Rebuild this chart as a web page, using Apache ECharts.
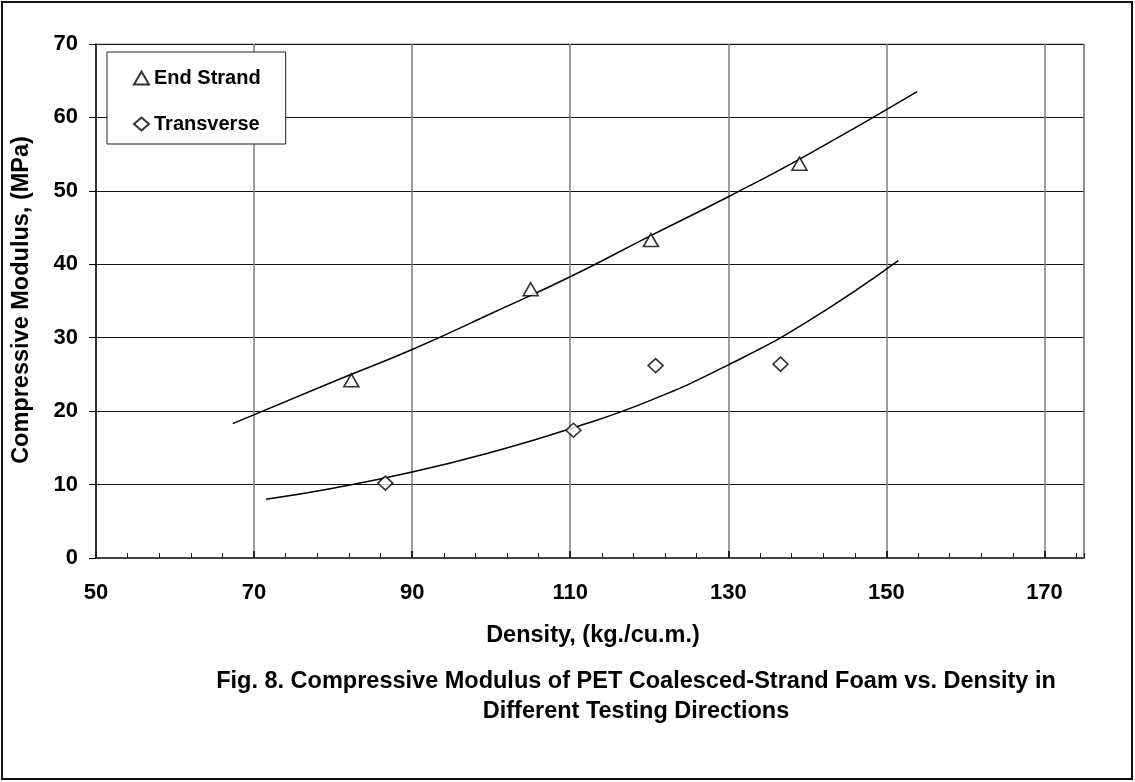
<!DOCTYPE html>
<html>
<head>
<meta charset="utf-8">
<title>Compressive Modulus vs. Density</title>
<script src="https://cdn.jsdelivr.net/npm/echarts@6/dist/echarts.min.js"></script>
<style>
  html, body { margin: 0; padding: 0; background: #fff; }
  #chart { width: 1135px; height: 782px; }
</style>
</head>
<body>
<div id="chart"></div>
<script>
const FONT = "'Liberation Sans', Arial, Helvetica, sans-serif";

// Measured specimens: [density (kg/m^3), compressive modulus (MPa)]
const endStrandPoints  = [[82.3, 24.2], [105.0, 36.6], [120.2, 43.3], [139.0, 53.7]];
const transversePoints = [[86.6, 10.2], [110.4, 17.4], [120.8, 26.2], [136.6, 26.4]];

// Trend curves
const endStrandTrend = [
  [67.3, 18.3], [80, 24.0], [90, 28.4], [100, 33.3], [110, 38.3],
  [120, 43.8], [130, 49.2], [140, 54.9], [153.9, 63.5]
];
const transverseTrend = [
  [71.5, 8.0], [80, 9.5], [90, 11.7], [100, 14.4], [110, 17.6], [120, 21.4],
  [130, 26.3], [140, 32.2], [151.5, 40.5]
];

// Axis ranges and tick steps
const xRange = [50, 175];
const xMajorStep = 20;
const xMinorStep = 4;
const yRange = [0, 70];
const yStep = 10;

// Text
const seriesNames = ['End Strand', 'Transverse'];
const xTitle = 'Density, (kg./cu.m.)';
const yTitle = 'Compressive Modulus, (MPa)';
const captionLines = [
  'Fig. 8. Compressive Modulus of PET Coalesced-Strand Foam vs. Density in',
  'Different Testing Directions'
];

const chart = echarts.init(document.getElementById('chart'), null, { renderer: 'canvas' });

const markerStyle = { color: '#fff', borderColor: '#000', borderWidth: 1.6 };
const trendStyle = { color: '#000', width: 1.5 };
const labelStyle = { fontFamily: FONT, fontSize: 22, fontWeight: 'bold', color: '#000' };

// one dark line per y tick; the top one is the grey frame edge
const yLineCount = Math.round((yRange[1] - yRange[0]) / yStep) + 1;
const yLineColors = [];
for (let i = 0; i < yLineCount; i++) yLineColors.push(i === yLineCount - 1 ? '#8a8a8a' : '#111');

const option = {
  animation: false,
  backgroundColor: '#fff',
  grid: {
    left: 96, right: 51, top: 44, bottom: 224,
    show: true, borderColor: '#9a9a9a', borderWidth: 1, backgroundColor: 'transparent'
  },
  legend: {
    data: [
      { name: seriesNames[0], icon: 'triangle' },
      { name: seriesNames[1], icon: 'diamond' }
    ],
    orient: 'vertical',
    left: 107, top: 52,
    padding: [16, 25, 10, 26],
    itemGap: 26,
    itemWidth: 15, itemHeight: 13,
    backgroundColor: '#fff',
    borderColor: '#222', borderWidth: 1,
    selectedMode: false,
    textStyle: { fontFamily: FONT, fontSize: 20, fontWeight: 'bold', color: '#000' }
  },
  xAxis: [
    {
      type: 'value', min: xRange[0], max: xRange[1], interval: xMajorStep, position: 'bottom',
      axisLine: { show: true, onZero: false, lineStyle: { color: '#444', width: 2 } },
      axisTick: { show: true, inside: true, length: 7, lineStyle: { color: '#222', width: 2 } },
      axisLabel: Object.assign({
        margin: 24, showMaxLabel: false,
        formatter: v => ((v - xRange[0]) % xMajorStep === 0 ? String(v) : '')
      }, labelStyle),
      splitLine: { show: true, showMinLine: false, lineStyle: { color: '#7c7c7c', width: 1.5 } }
    },
    {
      type: 'value', min: xRange[0], max: xRange[1], interval: xMinorStep, position: 'bottom',
      axisLine: { show: false, onZero: false },
      axisTick: { show: true, inside: true, length: 5, lineStyle: { color: '#222', width: 1 } },
      axisLabel: { show: false },
      splitLine: { show: false }
    }
  ],
  yAxis: {
    type: 'value', min: yRange[0], max: yRange[1], interval: yStep,
    axisLine: { show: true, lineStyle: { color: '#000', width: 1.5 } },
    axisTick: { show: true, inside: false, length: 7, lineStyle: { color: '#000', width: 1 } },
    axisLabel: Object.assign({ margin: 18 }, labelStyle),
    splitLine: { show: true, showMinLine: false, lineStyle: { color: yLineColors, width: 1 } }
  },
  series: [
    {
      name: 'End Strand trend', type: 'line', xAxisIndex: 0, data: endStrandTrend,
      showSymbol: false, symbol: 'none', smooth: 0.5,
      lineStyle: trendStyle, silent: true, z: 2
    },
    {
      name: 'Transverse trend', type: 'line', xAxisIndex: 0, data: transverseTrend,
      showSymbol: false, symbol: 'none', smooth: 0.5,
      lineStyle: trendStyle, silent: true, z: 2
    },
    {
      name: seriesNames[0], type: 'scatter', xAxisIndex: 0, data: endStrandPoints,
      symbol: 'triangle', symbolSize: [15, 13], itemStyle: markerStyle, z: 4
    },
    {
      name: seriesNames[1], type: 'scatter', xAxisIndex: 0, data: transversePoints,
      symbol: 'diamond', symbolSize: [15, 14], itemStyle: markerStyle, z: 4
    }
  ],
  graphic: [
    {
      type: 'rect', silent: true, z: 0,
      shape: { x: 2, y: 2, width: 1130, height: 777 },
      style: { fill: 'none', stroke: '#111', lineWidth: 2 }
    },
    {
      type: 'text', silent: true, x: 22, y: 300, rotation: Math.PI / 2,
      style: { text: yTitle, font: `bold 23.5px ${FONT}`, fill: '#000', align: 'center', verticalAlign: 'middle' }
    },
    {
      type: 'text', silent: true, x: 593, y: 636,
      style: { text: xTitle, font: `bold 23.5px ${FONT}`, fill: '#000', align: 'center', verticalAlign: 'middle' }
    },
    {
      type: 'text', silent: true, x: 636, y: 682,
      style: { text: captionLines[0], font: `bold 23.5px ${FONT}`, fill: '#000', align: 'center', verticalAlign: 'middle' }
    },
    {
      type: 'text', silent: true, x: 636, y: 712,
      style: { text: captionLines[1], font: `bold 23.5px ${FONT}`, fill: '#000', align: 'center', verticalAlign: 'middle' }
    }
  ]
};

chart.setOption(option);
</script>
</body>
</html>
